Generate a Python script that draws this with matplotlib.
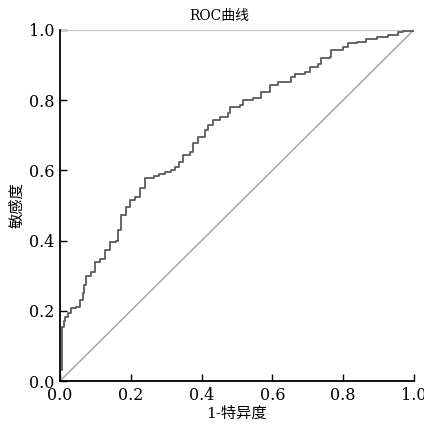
import matplotlib
matplotlib.use("Agg")
import matplotlib.pyplot as plt

plt.rcParams['font.family'] = ['DejaVu Serif', 'Noto Sans CJK SC']
plt.rcParams['axes.unicode_minus'] = False

# ROC 曲线上的点 (1-特异度, 敏感度)
fpr = [0.000, 0.000, 0.006, 0.006, 0.011, 0.013, 0.023, 0.032, 0.046, 0.056,
       0.065, 0.068, 0.074, 0.088, 0.098, 0.112, 0.126, 0.140, 0.159, 0.164,
       0.171, 0.187, 0.197, 0.211, 0.225, 0.239, 0.267, 0.281, 0.297, 0.315,
       0.325, 0.337, 0.348, 0.367, 0.377, 0.391, 0.410, 0.419, 0.433, 0.452,
       0.475, 0.480, 0.508, 0.518, 0.546, 0.567, 0.593, 0.617, 0.654, 0.664,
       0.692, 0.706, 0.730, 0.739, 0.763, 0.767, 0.800, 0.814, 0.838, 0.866,
       0.895, 0.927, 0.956, 0.970, 0.989, 1.000]
tpr = [0.000, 0.030, 0.080, 0.155, 0.170, 0.183, 0.193, 0.207, 0.212, 0.231,
       0.250, 0.274, 0.299, 0.311, 0.340, 0.349, 0.373, 0.397, 0.400, 0.430,
       0.473, 0.497, 0.516, 0.525, 0.549, 0.577, 0.584, 0.591, 0.596, 0.601,
       0.610, 0.625, 0.644, 0.653, 0.677, 0.696, 0.715, 0.729, 0.744, 0.753,
       0.763, 0.782, 0.786, 0.800, 0.805, 0.824, 0.843, 0.853, 0.867, 0.876,
       0.881, 0.895, 0.902, 0.919, 0.924, 0.943, 0.952, 0.962, 0.967, 0.974,
       0.981, 0.987, 0.993, 0.997, 0.998, 1.000]

ticks = [0.0, 0.2, 0.4, 0.6, 0.8, 1.0]
tick_labels = ['0.0', '0.2', '0.4', '0.6', '0.8', '1.0']

fig = plt.figure(figsize=(4.24, 4.26), dpi=100)
ax = fig.add_axes([0.1415, 0.1056, 0.8345, 0.824])

ax.plot([0, 1], [1, 1], color='#c8c8c8', lw=0.9)
ax.plot([0, 1], [0, 1], color='#a8a8a8', lw=1.1)
ax.plot(fpr, tpr, color='#5a5a5a', lw=1.3, drawstyle='steps-post')

ax.set_xlim(0, 1.0)
ax.set_ylim(0, 1.0)
ax.set_xticks(ticks)
ax.set_xticklabels(tick_labels)
ax.set_yticks(ticks)
ax.set_yticklabels(tick_labels)
ax.tick_params(direction='in', length=5, width=1, labelsize=11.5)
ax.tick_params(axis='x', pad=4)
ax.tick_params(axis='y', pad=4)

ax.spines['top'].set_visible(False)
ax.spines['right'].set_visible(False)
for s in ['left', 'bottom']:
    ax.spines[s].set_linewidth(1.3)

ax.set_xlabel('1-特异度', fontsize=11, labelpad=2)
ax.set_ylabel('敏感度', fontsize=11, labelpad=3)
fig.text(0.518, 0.962, 'ROC曲线', fontsize=10, ha='center', va='center')

fig.savefig('out.png', dpi=100)
